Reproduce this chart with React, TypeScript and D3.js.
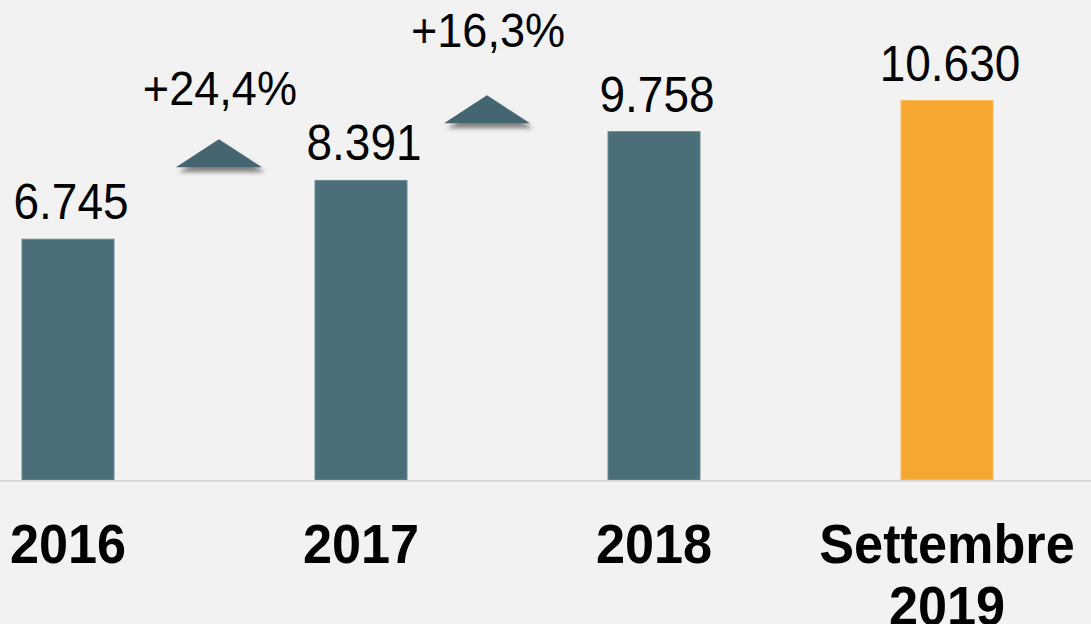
import React from "react";
import * as d3 from "d3";

const categories: string[] = ["2016", "2017", "2018", "Settembre\n2019"];
const values: number[] = [6745, 8391, 9758, 10630];
const barColors: string[] = ["#4a6f78", "#4a6f78", "#4a6f78", "#f5a82f"];
// growth annotations: between bar `from` and bar `from+1`
const growthFrom: number[] = [0, 1];
const growthPos: number[] = [0.515, 0.43]; // fraction of step after bar `from`
const arrowBase: number[] = [8760, 9990]; // data-space height of arrow base
const labelBase: number[] = [10495, 12115]; // data-space baseline of percentage label

const W = 1091;
const H = 624;

const it = d3.formatLocale({ decimal: ",", thousands: ".", grouping: [3], currency: ["€", ""] });
const fmtVal = it.format(",d");
const fmtPct = it.format("+.1%");

export default function App() {
  const x = d3
    .scaleBand<string>()
    .domain(categories)
    .range([-78.5, 1093.5])
    .paddingInner(0.686)
    .paddingOuter(0.343);
  const y = d3.scaleLinear().domain([0, 10630]).range([480, 100.5]);
  const bw = x.bandwidth();
  const step = x.step();
  const cx = (i: number) => (x(categories[i]) as number) + bw / 2;
  const font = "'Liberation Sans', Arial, Helvetica, sans-serif";

  return (
    <svg
      width={W}
      height={H}
      style={{ position: "absolute", left: 0, top: 0, background: "#f2f2f2" }}
    >
      <defs>
        <filter id="sh" x="-30%" y="-30%" width="160%" height="200%">
          <feDropShadow dx="3" dy="5" stdDeviation="2" floodColor="#555" floodOpacity="0.7" />
        </filter>
      </defs>
      <rect x={0} y={0} width={W} height={H} fill="#f2f2f2" />
      {values.map((v, i) => (
        <rect
          key={"b" + i}
          x={x(categories[i])}
          y={y(v)}
          width={bw}
          height={y(0) - y(v)}
          fill={barColors[i]}
          stroke={i === 3 ? "#f7bc5e" : "#6b8b93"}
          strokeWidth={1}
        />
      ))}
      <line x1={0} x2={W} y1={y(0) + 1} y2={y(0) + 1} stroke="#d9d9d9" strokeWidth={2} />
      {values.map((v, i) => (
        <text
          key={"v" + i}
          transform={`translate(${cx(i) + 3},${y(v) - 20}) scale(0.92,1)`}
          textAnchor="middle"
          fontFamily={font}
          fontSize={50}
          fill="#000"
        >
          {fmtVal(v)}
        </text>
      ))}
      {categories.map((c, i) => {
        const lines = c.split("\n");
        return (
          <text
            key={"c" + i}
            transform={`translate(${cx(i)},563) scale(0.95,1)`}
            textAnchor="middle"
            fontFamily={font}
            fontSize={55}
            fontWeight="bold"
            fill="#000"
          >
            {lines.map((l, j) => (
              <tspan key={j} x={0} dy={j === 0 ? 0 : 62}>
                {l}
              </tspan>
            ))}
          </text>
        );
      })}
      {growthFrom.map((f, k) => {
        const mx = cx(f) + growthPos[k] * step;
        const by = y(arrowBase[k]);
        const pct = values[f + 1] / values[f] - 1;
        const tri = d3.line()([
          [mx - 43, by],
          [mx, by - 28],
          [mx + 43, by],
        ]) + "Z";
        return (
          <g key={"g" + k}>
            <path d={tri} fill="#44656f" filter="url(#sh)" />
            <text
              transform={`translate(${mx + 1},${y(labelBase[k])}) scale(0.92,1)`}
              textAnchor="middle"
              fontFamily={font}
              fontSize={49}
              fill="#000"
            >
              {fmtPct(pct)}
            </text>
          </g>
        );
      })}
    </svg>
  );
}
